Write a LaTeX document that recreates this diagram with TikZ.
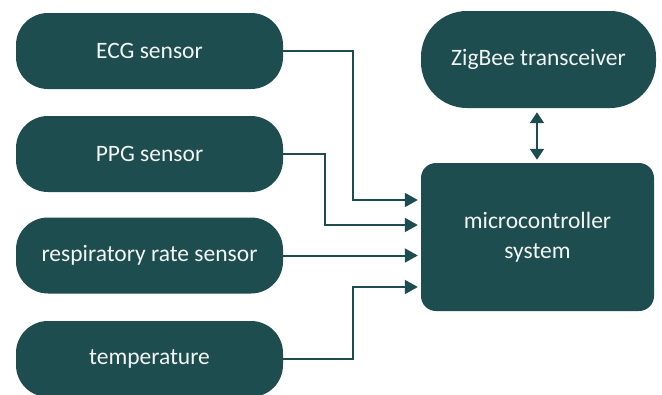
\documentclass[tikz,border=0pt]{standalone}
\usepackage{fontspec}
\setmainfont{Carlito}
\usetikzlibrary{arrows.meta,calc}
\definecolor{boxcol}{HTML}{1E4D4F}
\definecolor{txtcol}{HTML}{F2F5F5}
\begin{document}
\begin{tikzpicture}[x=1pt,y=-1pt,
  sbox/.style={fill=boxcol, rounded corners=32pt, minimum width=267pt, minimum height=76pt, text=txtcol, font=\fontsize{23.5}{30}\selectfont, inner sep=0pt, align=center},
  conn/.style={draw=boxcol, line width=2pt, -{Triangle[length=13pt,width=14pt]}, shorten >=3pt},
  dconn/.style={draw=boxcol, line width=2pt, {Triangle[length=11pt,width=14pt]}-{Triangle[length=11pt,width=14pt]}}]
\useasboundingbox (0,0) rectangle (662,394);
\node[sbox] (ecg) at (149.5,51) {ECG sensor};
\node[sbox] (ppg) at (149.5,154) {PPG sensor};
\node[sbox] (resp) at (149.5,255.5) {respiratory rate sensor};
\node[sbox] (temp) at (149.5,359) {temperature};
\node[sbox, rounded corners=46pt, minimum width=235pt, minimum height=97pt] (zb) at (538.5,59.5) {ZigBee transceiver};
\node[sbox, rounded corners=15pt, minimum width=233pt, minimum height=148pt] (mc) at (537.5,237) {microcontroller\\system};
\draw[conn] (ecg.east) -- ++(70,0) |- ($(mc.west)+(0,-37)$);
\draw[conn] (ppg.east) -- ++(42,0) |- ($(mc.west)+(0,-12)$);
\draw[conn] (resp.east) -- (resp.east -| mc.west);
\draw[conn] (temp.east) -- ++(70,0) |- ($(mc.west)+(0,50)$);
\draw[dconn, shorten <=4pt, shorten >=3pt] ($(zb.south)+(-1.5,0)$) -- ($(mc.north)+(-0.5,0)$);
\end{tikzpicture}
\end{document}
